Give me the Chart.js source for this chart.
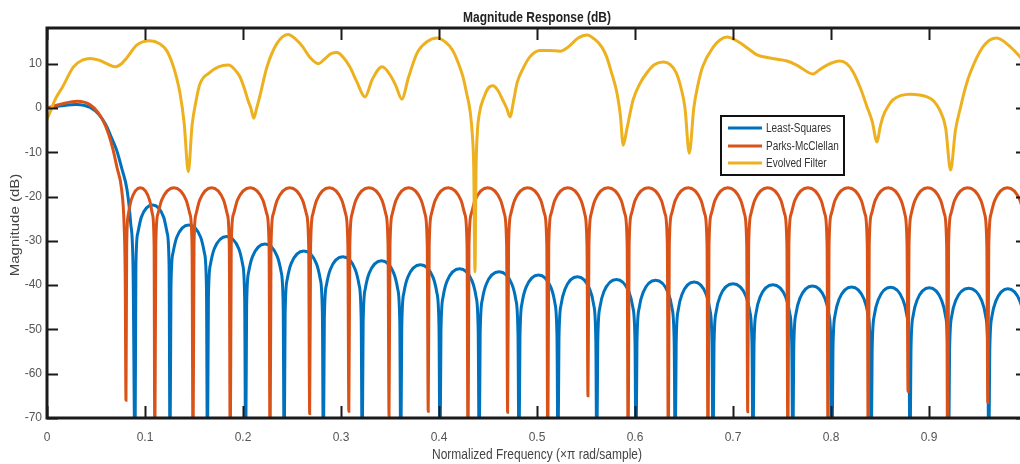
<!DOCTYPE html>
<html>
<head>
<meta charset="utf-8">
<script src="https://cdn.jsdelivr.net/npm/chart.js@4.4.1/dist/chart.umd.min.js"></script>
<style>
  html, body { margin: 0; padding: 0; background: #fff; overflow: hidden; }
  #wrap { width: 1040px; height: 464px; }
</style>
</head>
<body>
<div id="wrap"><canvas id="chart" width="1040" height="464"></canvas></div>
<script>
const seriesNames = ["Least-Squares", "Parks-McClellan", "Evolved Filter"];
const seriesColors = ["#0072BD", "#D95319", "#EDB120"];

// Least-Squares: passband, then one line per sidelobe (ending in its null)
const lsFreq = [
  0, 0.015, 0.03, 0.044, 0.053, 0.06, 0.066, 0.071, 0.0765, 0.0817, 0.0854, 0.0878, 0.0898,
  0.0907, 0.0927, 0.0962, 0.1077, 0.1191, 0.1226, 0.1246, 0.1255,
  0.1265, 0.1286, 0.1324, 0.1446, 0.1568, 0.1606, 0.1627, 0.1637,
  0.1647, 0.1668, 0.1707, 0.1832, 0.1957, 0.1996, 0.2017, 0.2027,
  0.2037, 0.2058, 0.2098, 0.2224, 0.2349, 0.2389, 0.241, 0.242,
  0.243, 0.2452, 0.2492, 0.262, 0.2748, 0.2788, 0.281, 0.282,
  0.283, 0.2852, 0.2892, 0.3018, 0.3144, 0.3184, 0.3206, 0.3216,
  0.3226, 0.3248, 0.3288, 0.3413, 0.3538, 0.3578, 0.360, 0.361,
  0.362, 0.3642, 0.3682, 0.381, 0.3938, 0.3978, 0.400, 0.401,
  0.402, 0.4042, 0.4082, 0.421, 0.4338, 0.4378, 0.440, 0.441,
  0.442, 0.4442, 0.4482, 0.4613, 0.4744, 0.4784, 0.4806, 0.4816,
  0.4826, 0.4848, 0.4888, 0.5015, 0.5142, 0.5182, 0.5204, 0.5214,
  0.5224, 0.5246, 0.5286, 0.5412, 0.5538, 0.5578, 0.560, 0.561,
  0.562, 0.5642, 0.5682, 0.581, 0.5938, 0.5978, 0.600, 0.601,
  0.602, 0.6042, 0.6082, 0.621, 0.6338, 0.6378, 0.640, 0.641,
  0.642, 0.6441, 0.6479, 0.6603, 0.6727, 0.6765, 0.6786, 0.6796,
  0.6806, 0.6828, 0.6868, 0.70, 0.7132, 0.7172, 0.7194, 0.7204,
  0.7214, 0.7236, 0.7276, 0.7407, 0.7538, 0.7578, 0.760, 0.761,
  0.762, 0.7642, 0.7682, 0.781, 0.7938, 0.7978, 0.800, 0.801,
  0.802, 0.8042, 0.8082, 0.821, 0.8338, 0.8378, 0.840, 0.841,
  0.842, 0.8442, 0.8482, 0.8608, 0.8734, 0.8774, 0.8796, 0.8806,
  0.8816, 0.8838, 0.8878, 0.9003, 0.9128, 0.9168, 0.919, 0.920,
  0.921, 0.9232, 0.9272, 0.9405, 0.9538, 0.9578, 0.960, 0.961,
  0.962, 0.9642, 0.9682, 0.9805, 0.9928, 0.9968, 0.999, 1.0
];
const lsMag = [
  0, 0.5, 0.8, 0.1, -1.5, -3.8, -6.8, -9.5, -13.8, -18.5, -26, -36, -80,
  -35.9, -28.2, -24.7, -21.9, -24.7, -28.2, -35.9, -80,
  -40.4, -32.7, -29.2, -26.4, -29.2, -32.7, -40.4, -80,
  -43, -35.3, -31.8, -29, -31.8, -35.3, -43, -80,
  -44.7, -37, -33.5, -30.7, -33.5, -37, -44.7, -80,
  -46.3, -38.6, -35.1, -32.3, -35.1, -38.6, -46.3, -80,
  -47.6, -39.9, -36.4, -33.6, -36.4, -39.9, -47.6, -80,
  -48.5, -40.8, -37.3, -34.5, -37.3, -40.8, -48.5, -80,
  -49.4, -41.7, -38.2, -35.4, -38.2, -41.7, -49.4, -80,
  -50.3, -42.6, -39.1, -36.3, -39.1, -42.6, -50.3, -80,
  -51, -43.3, -39.8, -37, -39.8, -43.3, -51, -80,
  -51.7, -44, -40.5, -37.7, -40.5, -44, -51.7, -80,
  -52.1, -44.4, -40.9, -38.1, -40.9, -44.4, -52.1, -80,
  -52.7, -45, -41.5, -38.7, -41.5, -45, -52.7, -80,
  -52.9, -45.2, -41.7, -38.9, -41.7, -45.2, -52.9, -80,
  -53.3, -45.6, -42.1, -39.3, -42.1, -45.6, -53.3, -80,
  -53.7, -46, -42.5, -39.7, -42.5, -46, -53.7, -80,
  -53.9, -46.2, -42.7, -39.9, -42.7, -46.2, -53.9, -80,
  -54.2, -46.5, -43, -40.2, -43, -46.5, -54.2, -80,
  -54.4, -46.7, -43.2, -40.4, -43.2, -46.7, -54.4, -80,
  -54.5, -46.8, -43.3, -40.5, -43.3, -46.8, -54.5, -80,
  -54.6, -46.9, -43.4, -40.6, -43.4, -46.9, -54.6, -80,
  -54.7, -47, -43.5, -40.7, -43.5, -47, -54.7, -80,
  -54.8, -47.1, -43.6, -40.8, -43.6, -47.1, -54.8, -80
];

// Parks-McClellan: equiripple sidelobes near -18 dB
const pmFreq = [
  0, 0.015, 0.031, 0.044, 0.052, 0.058, 0.063, 0.0675, 0.0715, 0.0762, 0.0786, 0.0798, 0.0806,
  0.0813, 0.0830, 0.0859, 0.0953, 0.1047, 0.1076, 0.1093, 0.110,
  0.111, 0.1131, 0.117, 0.1295, 0.142, 0.1459, 0.148, 0.149,
  0.150, 0.152, 0.1558, 0.168, 0.1802, 0.184, 0.186, 0.187,
  0.188, 0.1903, 0.1943, 0.2073, 0.2203, 0.2244, 0.2266, 0.2276,
  0.2286, 0.2308, 0.2349, 0.2478, 0.2607, 0.2648, 0.267, 0.268,
  0.269, 0.2712, 0.2752, 0.288, 0.3008, 0.3048, 0.307, 0.308,
  0.309, 0.3112, 0.3152, 0.3285, 0.3418, 0.3458, 0.348, 0.349,
  0.350, 0.3522, 0.3562, 0.369, 0.3818, 0.3858, 0.388, 0.389,
  0.390, 0.3922, 0.3962, 0.4093, 0.4224, 0.4264, 0.4286, 0.4296,
  0.4306, 0.4328, 0.4368, 0.4498, 0.4628, 0.4668, 0.469, 0.470,
  0.471, 0.4732, 0.4772, 0.4905, 0.5038, 0.5078, 0.510, 0.511,
  0.512, 0.5142, 0.5182, 0.5315, 0.5448, 0.5488, 0.551, 0.552,
  0.553, 0.5552, 0.5592, 0.5725, 0.5858, 0.5898, 0.592, 0.593,
  0.594, 0.5962, 0.6002, 0.6135, 0.6268, 0.6308, 0.633, 0.634,
  0.635, 0.6372, 0.6412, 0.6543, 0.6673, 0.6713, 0.6735, 0.6745,
  0.6755, 0.6777, 0.6817, 0.6948, 0.7078, 0.7118, 0.714, 0.715,
  0.716, 0.7182, 0.7222, 0.7355, 0.7488, 0.7528, 0.755, 0.756,
  0.757, 0.7592, 0.7632, 0.7765, 0.7898, 0.7938, 0.796, 0.797,
  0.798, 0.8002, 0.8042, 0.8175, 0.8308, 0.8348, 0.837, 0.838,
  0.839, 0.8412, 0.8452, 0.8583, 0.8714, 0.8754, 0.8776, 0.8786,
  0.8796, 0.8818, 0.8858, 0.8988, 0.9118, 0.9158, 0.918, 0.919,
  0.920, 0.9222, 0.9262, 0.9395, 0.9528, 0.9568, 0.959, 0.960,
  0.961, 0.9632, 0.9672, 0.98, 0.9928, 0.9968, 0.999, 1.0
];
const pmMag = [
  0, 0.9, 1.5, 0.7, -1, -3.2, -6, -9.5, -13.5, -18.5, -26, -38, -66,
  -31, -24, -20.8, -18, -20.8, -24, -31, -80,
  -31, -24, -20.8, -18, -20.8, -24, -31, -80,
  -31, -24, -20.8, -18, -20.8, -24, -31, -80,
  -31, -24, -20.8, -18, -20.8, -24, -31, -80,
  -31, -24, -20.8, -18, -20.8, -24, -31, -69,
  -31, -24, -20.8, -18, -20.8, -24, -31, -68.5,
  -31, -24, -20.8, -18, -20.8, -24, -31, -69.5,
  -31, -24, -20.8, -18, -20.8, -24, -31, -68.5,
  -31, -24, -20.8, -18, -20.8, -24, -31, -80,
  -31, -24, -20.8, -18, -20.8, -24, -31, -68.7,
  -31, -24, -20.8, -18, -20.8, -24, -31, -80,
  -31, -24, -20.8, -18, -20.8, -24, -31, -65,
  -31, -24, -20.8, -18, -20.8, -24, -31, -80,
  -31, -24, -20.8, -18, -20.8, -24, -31, -80,
  -31, -24, -20.8, -18, -20.8, -24, -31, -80,
  -31, -24, -20.8, -18, -20.8, -24, -31, -68.6,
  -31, -24, -20.8, -18, -20.8, -24, -31, -80,
  -31, -24, -20.8, -18, -20.8, -24, -31, -80,
  -31, -24, -20.8, -18, -20.8, -24, -31, -80,
  -31, -24, -20.8, -18, -20.8, -24, -31, -64,
  -31, -24, -20.8, -18, -20.8, -24, -31, -80,
  -31, -24, -20.8, -18, -20.8, -24, -31, -66.5,
  -31, -24, -20.8, -18, -20.8, -24, -31, -80
];

// Evolved filter
const evFreq = [
  0, 0.004, 0.008, 0.016, 0.027, 0.036, 0.044, 0.053, 0.061, 0.0694, 0.076, 0.081, 0.0915, 0.105,
  0.115, 0.122, 0.128, 0.132, 0.136, 0.140, 0.1442, 0.148, 0.152, 0.156, 0.166, 0.175, 0.185,
  0.192, 0.197, 0.202, 0.205, 0.208, 0.211, 0.214, 0.217, 0.2245, 0.2347, 0.246, 0.254, 0.261,
  0.268, 0.277, 0.283, 0.29, 0.296, 0.302, 0.309, 0.316, 0.3245, 0.332, 0.342, 0.35, 0.356,
  0.362, 0.369, 0.3776, 0.388, 0.398, 0.407, 0.414, 0.42, 0.4245, 0.428, 0.4316, 0.434, 0.4355,
  0.4367, 0.4378, 0.439, 0.441, 0.446, 0.45, 0.455, 0.46, 0.465, 0.469, 0.4725, 0.476, 0.4796,
  0.486, 0.4929, 0.503, 0.513, 0.5235, 0.532, 0.542, 0.551, 0.56, 0.566, 0.571, 0.576, 0.5816,
  0.585, 0.588, 0.5915, 0.598, 0.605, 0.612, 0.62, 0.629, 0.636, 0.642, 0.647, 0.651, 0.6554,
  0.66, 0.664, 0.669, 0.68, 0.687, 0.694, 0.705, 0.715, 0.7245, 0.735, 0.745, 0.755, 0.765,
  0.7816, 0.788, 0.7959, 0.809, 0.816, 0.8224, 0.83, 0.8367, 0.842, 0.847, 0.85, 0.853, 0.858,
  0.863, 0.8806, 0.898, 0.905, 0.911, 0.917, 0.922, 0.927, 0.932, 0.937, 0.942, 0.955, 0.969,
  0.983, 0.993, 1.0
];
const evMag = [
  -2.5, -0.5, 1.8, 4.8, 9.3, 10.8, 11.2, 10.8, 10, 9.3, 10, 11.2, 14.2, 15.2,
  14.5, 13, 10, 7, 3, -3.5, -14.4, -4, 1.5, 5.4, 8, 9.3, 9.7,
  8.6, 7, 4, 1.8, 0, -2.3, 0, 2.5, 9.3, 14.6, 16.6, 15.5, 13.8,
  11.5, 10, 11, 12.3, 12.5, 11.5, 9.3, 6, 2.5, 6.5, 9.3, 7.5, 5,
  2, 7, 12.4, 15, 15.8, 14.8, 13, 10, 7, 3.5, -0.5, -6, -14,
  -37, -14, -6, -1.5, 2.5, 4.4, 5, 4, 1.8, 0, -2, 1.5, 5.6,
  9, 11.6, 13, 13, 12.8, 13.8, 15.8, 16.5, 15.3, 13.8, 11.6, 8, 3.4,
  -1.5, -8.4, -5, 1.8, 5.5, 7.9, 9.8, 10.4, 9.8, 8, 4.5, 0, -10.2,
  0, 5, 9.3, 13.8, 15.4, 16, 15, 13.5, 12, 11.4, 11, 10.6, 9.7,
  7.7, 8.6, 9.7, 10.6, 10, 8.2, 4.5, 0.3, -3, -7.7, -4.5, -2, 0.3,
  1.8, 3.1, 2.5, 1.5, -0.5, -4.5, -14, -5, 0, 4.5, 7.9, 13.8, 15.8,
  13.8, 11.5, 9.5
];

const xTicksStep = 0.1;
const yTicksStep = 10;

const FONT = '"Liberation Sans", Arial, Helvetica, sans-serif';

function toPoints(xs, ys) {
  return xs.map((x, i) => ({ x: x, y: ys[i] }));
}

// stretched text, the source picture is a bit taller than wide
function stretchText(ctx, text, x, y, rot, sx, sy) {
  ctx.save();
  ctx.translate(x, y);
  if (rot) ctx.rotate(rot);
  ctx.scale(sx, sy);
  ctx.fillText(text, 0, 0);
  ctx.restore();
}

const framePlugin = {
  id: 'frame',
  afterDatasetsDraw(chart) {
    const { ctx, chartArea: a, scales } = chart;
    const xs = scales.x, ys = scales.y;
    ctx.save();
    ctx.strokeStyle = '#1a1a1a';
    ctx.lineWidth = 2;
    ctx.beginPath();
    xs.ticks.forEach(t => {
      const px = Math.round(xs.getPixelForValue(t.value)) + 0.5;
      ctx.moveTo(px, a.bottom); ctx.lineTo(px, a.bottom - 12);
      ctx.moveTo(px, a.top); ctx.lineTo(px, a.top + 12);
    });
    ys.ticks.forEach(t => {
      const py = Math.round(ys.getPixelForValue(t.value)) + 0.5;
      ctx.moveTo(a.left, py); ctx.lineTo(a.left + 11, py);
      ctx.moveTo(a.right, py); ctx.lineTo(a.right - 11, py);
    });
    ctx.stroke();
    ctx.lineWidth = 3;
    ctx.beginPath();
    ctx.moveTo(a.right, a.top);
    ctx.lineTo(a.left, a.top);
    ctx.lineTo(a.left, a.bottom);
    ctx.lineTo(a.right, a.bottom);
    ctx.lineTo(a.right, a.top);
    ctx.stroke();
    ctx.restore();
  },
  afterDraw(chart) {
    const { ctx } = chart;
    ctx.save();
    // title and axis titles
    ctx.textAlign = 'center';
    ctx.textBaseline = 'middle';
    ctx.fillStyle = '#222';
    ctx.font = 'bold 12px ' + FONT;
    stretchText(ctx, 'Magnitude Response (dB)', 537, 18, 0, 1, 1.2);
    ctx.fillStyle = '#444';
    ctx.font = '12px ' + FONT;
    stretchText(ctx, 'Normalized Frequency (\u00d7\u03c0 rad/sample)', 537, 455, 0, 1, 1.2);
    stretchText(ctx, 'Magnitude (dB)', 16, 225, -Math.PI / 2, 1.25, 1);

    // legend box
    const bx = 721, by = 116, bw = 123, bh = 59;
    ctx.fillStyle = '#fff';
    ctx.fillRect(bx, by, bw, bh);
    ctx.strokeStyle = '#111';
    ctx.lineWidth = 2;
    ctx.strokeRect(bx, by, bw, bh);
    const rows = [128, 146, 163];
    chart.data.datasets.forEach((ds, i) => {
      ctx.strokeStyle = ds.borderColor;
      ctx.lineWidth = 3;
      ctx.beginPath();
      ctx.moveTo(728, rows[i]);
      ctx.lineTo(762, rows[i]);
      ctx.stroke();
      ctx.fillStyle = '#333';
      ctx.font = '10px ' + FONT;
      ctx.textAlign = 'left';
      stretchText(ctx, ds.label, 766, rows[i] + 0.5, 0, 1, 1.2);
    });
    ctx.restore();
  }
};

const lineStyle = {
  borderWidth: 3,
  pointRadius: 0,
  fill: false,
  cubicInterpolationMode: 'monotone',
  clip: 0
};

new Chart(document.getElementById('chart'), {
  type: 'line',
  data: {
    datasets: [
      Object.assign({ label: seriesNames[0], data: toPoints(lsFreq, lsMag), borderColor: seriesColors[0], order: 2 }, lineStyle),
      Object.assign({ label: seriesNames[1], data: toPoints(pmFreq, pmMag), borderColor: seriesColors[1], order: 1 }, lineStyle),
      Object.assign({ label: seriesNames[2], data: toPoints(evFreq, evMag), borderColor: seriesColors[2], order: 0 }, lineStyle)
    ]
  },
  options: {
    responsive: false,
    animation: false,
    events: [],
    layout: { padding: { top: 28, right: 13, left: 0, bottom: 0 } },
    plugins: { legend: { display: false }, tooltip: { enabled: false }, title: { display: false } },
    scales: {
      x: {
        type: 'linear',
        min: 0,
        max: 1,
        grid: { display: false, drawTicks: false },
        border: { display: false },
        ticks: {
          stepSize: xTicksStep,
          includeBounds: false,
          autoSkip: false,
          maxRotation: 0,
          padding: 12,
          color: '#555',
          font: { family: FONT, size: 12 },
          callback: v => (v >= 1 ? '' : String(Math.round(v * 10) / 10))
        },
        afterFit(scale) { scale.height = 46; }
      },
      y: {
        type: 'linear',
        min: -70,
        max: 18.06,
        grid: { display: false, drawTicks: false },
        border: { display: false },
        ticks: {
          stepSize: yTicksStep,
          includeBounds: false,
          padding: 5,
          color: '#555',
          font: { family: FONT, size: 12 }
        },
        afterFit(scale) { scale.width = 47; }
      }
    }
  },
  plugins: [framePlugin]
});
</script>
</body>
</html>
